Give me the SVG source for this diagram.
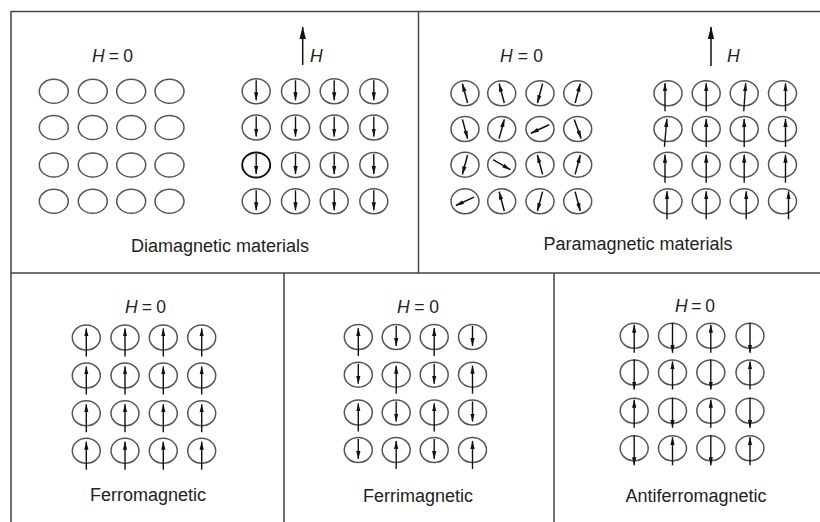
<svg xmlns="http://www.w3.org/2000/svg" xmlns:xlink="http://www.w3.org/1999/xlink" width="820" height="522" viewBox="0 0 820 522">
<style>
.t{font-family:"Liberation Sans",Arial,sans-serif;font-size:18px;fill:#222}
.h{font-family:"Liberation Sans",Arial,sans-serif;font-size:17.5px;fill:#222}
.fr{stroke:#444;stroke-width:1.5;fill:none}
</style>
<defs>
<marker id="ah" viewBox="0 0 8 4" refX="7.5" refY="2" markerWidth="8.5" markerHeight="4.6" markerUnits="userSpaceOnUse" orient="auto"><path d="M0,0L8,2L0,4z" fill="#111"/></marker>
<marker id="bh" viewBox="0 0 8 4" refX="7.5" refY="2" markerWidth="13" markerHeight="6.5" markerUnits="userSpaceOnUse" orient="auto"><path d="M0,0L8,2L0,4z" fill="#111"/></marker>
<ellipse id="c" cx="0" cy="0" rx="14" ry="12.5" fill="none" stroke="#555" stroke-width="1.5"/>
<ellipse id="c0" cx="0" cy="0" rx="14.5" ry="12" fill="none" stroke="#555" stroke-width="1.5"/>
<line id="sd" x1="0" y1="-11" x2="0" y2="9" stroke="#111" stroke-width="1.4" marker-end="url(#ah)"/>
<line id="lu" x1="0" y1="19" x2="0" y2="-9" stroke="#111" stroke-width="1.4" marker-end="url(#ah)"/>
<line id="ad" x1="0" y1="-13" x2="0" y2="17" stroke="#111" stroke-width="1.4" marker-end="url(#ah)"/>
<line id="au" x1="0" y1="17" x2="0" y2="-11" stroke="#111" stroke-width="1.4" marker-end="url(#ah)"/>
<line id="pa" x1="0" y1="10" x2="0" y2="-10" stroke="#111" stroke-width="1.5" marker-end="url(#ah)"/>
<line id="pu" x1="0" y1="18" x2="0" y2="-10" stroke="#111" stroke-width="1.4" marker-end="url(#ah)"/>
</defs>
<rect x="0" y="0" width="820" height="522" fill="#fff"/>
<g id="frame">
<path class="fr" d="M11,522V11.5H820M11,273H820M418.5,11.5V273M284,273V522M554,273V522"/>
</g>
<g id="diamagnetic">
<text class="h" x="92" y="62" textLength="41" lengthAdjust="spacing"><tspan font-style="italic">H</tspan>=0</text>
<line x1="302.7" y1="65" x2="302.7" y2="27" stroke="#111" stroke-width="1.5" marker-end="url(#bh)"/>
<text class="h" x="310" y="62" font-style="italic">H</text>
<g id="dia-left">
<use xlink:href="#c0" x="53.8" y="91.3"/><use xlink:href="#c0" x="92.8" y="91.3"/><use xlink:href="#c0" x="131.2" y="91.3"/><use xlink:href="#c0" x="169.5" y="91.3"/>
<use xlink:href="#c0" x="53.8" y="127.5"/><use xlink:href="#c0" x="92.8" y="127.5"/><use xlink:href="#c0" x="131.2" y="127.5"/><use xlink:href="#c0" x="169.5" y="127.5"/>
<use xlink:href="#c0" x="53.8" y="165"/><use xlink:href="#c0" x="92.8" y="165"/><use xlink:href="#c0" x="131.2" y="165"/><use xlink:href="#c0" x="169.5" y="165"/>
<use xlink:href="#c0" x="53.8" y="201.3"/><use xlink:href="#c0" x="92.8" y="201.3"/><use xlink:href="#c0" x="131.2" y="201.3"/><use xlink:href="#c0" x="169.5" y="201.3"/>
</g>
<g id="dia-right">
<use xlink:href="#c" x="256.2" y="91.3"/><use xlink:href="#sd" x="256.2" y="91.3"/>
<use xlink:href="#c" x="295.5" y="91.3"/><use xlink:href="#sd" x="295.5" y="91.3"/>
<use xlink:href="#c" x="334.2" y="91.3"/><use xlink:href="#sd" x="334.2" y="91.3"/>
<use xlink:href="#c" x="373.8" y="91.3"/><use xlink:href="#sd" x="373.8" y="91.3"/>
<use xlink:href="#c" x="256.2" y="127.5"/><use xlink:href="#sd" x="256.2" y="127.5"/>
<use xlink:href="#c" x="295.5" y="127.5"/><use xlink:href="#sd" x="295.5" y="127.5"/>
<use xlink:href="#c" x="334.2" y="127.5"/><use xlink:href="#sd" x="334.2" y="127.5"/>
<use xlink:href="#c" x="373.8" y="127.5"/><use xlink:href="#sd" x="373.8" y="127.5"/>
<ellipse cx="256.2" cy="165" rx="14" ry="12.5" fill="none" stroke="#111" stroke-width="1.9"/><use xlink:href="#sd" x="256.2" y="165"/>
<use xlink:href="#c" x="295.5" y="165"/><use xlink:href="#sd" x="295.5" y="165"/>
<use xlink:href="#c" x="334.2" y="165"/><use xlink:href="#sd" x="334.2" y="165"/>
<use xlink:href="#c" x="373.8" y="165"/><use xlink:href="#sd" x="373.8" y="165"/>
<use xlink:href="#c" x="256.2" y="201.3"/><use xlink:href="#sd" x="256.2" y="201.3"/>
<use xlink:href="#c" x="295.5" y="201.3"/><use xlink:href="#sd" x="295.5" y="201.3"/>
<use xlink:href="#c" x="334.2" y="201.3"/><use xlink:href="#sd" x="334.2" y="201.3"/>
<use xlink:href="#c" x="373.8" y="201.3"/><use xlink:href="#sd" x="373.8" y="201.3"/>
</g>
<text class="t" x="220" y="252" text-anchor="middle">Diamagnetic materials</text>
</g>
<g id="paramagnetic">
<text class="h" x="500" y="62" textLength="43" lengthAdjust="spacing"><tspan font-style="italic">H</tspan>=0</text>
<line x1="711" y1="66" x2="711" y2="27" stroke="#111" stroke-width="1.5" marker-end="url(#bh)"/>
<text class="h" x="727" y="62" font-style="italic">H</text>
<g id="para-left">
<use xlink:href="#c" x="465" y="93.3"/><use xlink:href="#pa" transform="translate(465,93.3) rotate(-15)"/>
<use xlink:href="#c" x="501.7" y="93.3"/><use xlink:href="#pa" transform="translate(501.7,93.3) rotate(-15)"/>
<use xlink:href="#c" x="540" y="93.3"/><use xlink:href="#pa" transform="translate(540,93.3) rotate(195)"/>
<use xlink:href="#c" x="577.7" y="93.3"/><use xlink:href="#pa" transform="translate(577.7,93.3) rotate(15)"/>
<use xlink:href="#c" x="465" y="129"/><use xlink:href="#pa" transform="translate(465,129) rotate(165)"/>
<use xlink:href="#c" x="501.7" y="129"/><use xlink:href="#pa" transform="translate(501.7,129) rotate(15)"/>
<use xlink:href="#c" x="540" y="129"/><use xlink:href="#pa" transform="translate(540,129) rotate(245)"/>
<use xlink:href="#c" x="577.7" y="129"/><use xlink:href="#pa" transform="translate(577.7,129) rotate(160)"/>
<use xlink:href="#c" x="465" y="164.7"/><use xlink:href="#pa" transform="translate(465,164.7) rotate(195)"/>
<use xlink:href="#c" x="501.7" y="164.7"/><use xlink:href="#pa" transform="translate(501.7,164.7) rotate(120)"/>
<use xlink:href="#c" x="540" y="164.7"/><use xlink:href="#pa" transform="translate(540,164.7) rotate(-15)"/>
<use xlink:href="#c" x="577.7" y="164.7"/><use xlink:href="#pa" transform="translate(577.7,164.7) rotate(15)"/>
<use xlink:href="#c" x="465" y="201.3"/><use xlink:href="#pa" transform="translate(465,201.3) rotate(245)"/>
<use xlink:href="#c" x="501.7" y="201.3"/><use xlink:href="#pa" transform="translate(501.7,201.3) rotate(-15)"/>
<use xlink:href="#c" x="540" y="201.3"/><use xlink:href="#pa" transform="translate(540,201.3) rotate(195)"/>
<use xlink:href="#c" x="577.7" y="201.3"/><use xlink:href="#pa" transform="translate(577.7,201.3) rotate(165)"/>
</g>
<g id="para-right">
<use xlink:href="#c" x="668" y="93.3"/><use xlink:href="#pu" x="665" y="93.3"/>
<use xlink:href="#c" x="706.2" y="93.3"/><use xlink:href="#pu" x="706.2" y="93.3"/>
<use xlink:href="#c" x="744.2" y="93.3"/><use xlink:href="#pu" transform="translate(745,93.3) rotate(4)"/>
<use xlink:href="#c" x="782.5" y="93.3"/><use xlink:href="#pu" x="785.5" y="93.3"/>
<use xlink:href="#c" x="668" y="129"/><use xlink:href="#pu" transform="translate(666,129) rotate(5)"/>
<use xlink:href="#c" x="706.2" y="129"/><use xlink:href="#pu" x="706.2" y="129"/>
<use xlink:href="#c" x="744.2" y="129"/><use xlink:href="#pu" x="744.2" y="129"/>
<use xlink:href="#c" x="782.5" y="129"/><use xlink:href="#pu" x="785.5" y="129"/>
<use xlink:href="#c" x="668" y="164.7"/><use xlink:href="#pu" x="665" y="164.7"/>
<use xlink:href="#c" x="706.2" y="164.7"/><use xlink:href="#pu" x="706.2" y="164.7"/>
<use xlink:href="#c" x="744.2" y="164.7"/><use xlink:href="#pu" x="744.2" y="164.7"/>
<use xlink:href="#c" x="782.5" y="164.7"/><use xlink:href="#pu" x="785.5" y="164.7"/>
<use xlink:href="#c" x="668" y="201.3"/><use xlink:href="#pu" x="667" y="201.3"/>
<use xlink:href="#c" x="706.2" y="201.3"/><use xlink:href="#pu" x="706.2" y="201.3"/>
<use xlink:href="#c" x="744.2" y="201.3"/><use xlink:href="#pu" x="746.2" y="201.3"/>
<use xlink:href="#c" x="782.5" y="201.3"/><use xlink:href="#pu" x="788.5" y="201.3"/>
</g>
<text class="t" x="638" y="250" text-anchor="middle">Paramagnetic materials</text>
</g>
<g id="ferromagnetic">
<text class="h" x="125" y="312.5" textLength="41" lengthAdjust="spacing"><tspan font-style="italic">H</tspan>=0</text>
<use xlink:href="#c" x="86.3" y="337.5"/><use xlink:href="#lu" x="86.3" y="337.5"/>
<use xlink:href="#c" x="125" y="337.5"/><use xlink:href="#lu" x="125" y="337.5"/>
<use xlink:href="#c" x="163.3" y="337.5"/><use xlink:href="#lu" x="163.3" y="337.5"/>
<use xlink:href="#c" x="201.7" y="337.5"/><use xlink:href="#lu" x="201.7" y="337.5"/>
<use xlink:href="#c" x="86.3" y="375.5"/><use xlink:href="#lu" x="86.3" y="375.5"/>
<use xlink:href="#c" x="125" y="375.5"/><use xlink:href="#lu" x="125" y="375.5"/>
<use xlink:href="#c" x="163.3" y="375.5"/><use xlink:href="#lu" x="163.3" y="375.5"/>
<use xlink:href="#c" x="201.7" y="375.5"/><use xlink:href="#lu" x="201.7" y="375.5"/>
<use xlink:href="#c" x="86.3" y="413.3"/><use xlink:href="#lu" x="86.3" y="413.3"/>
<use xlink:href="#c" x="125" y="413.3"/><use xlink:href="#lu" x="125" y="413.3"/>
<use xlink:href="#c" x="163.3" y="413.3"/><use xlink:href="#lu" x="163.3" y="413.3"/>
<use xlink:href="#c" x="201.7" y="413.3"/><use xlink:href="#lu" x="201.7" y="413.3"/>
<use xlink:href="#c" x="86.3" y="450.8"/><use xlink:href="#lu" x="86.3" y="450.8"/>
<use xlink:href="#c" x="125" y="450.8"/><use xlink:href="#lu" x="125" y="450.8"/>
<use xlink:href="#c" x="163.3" y="450.8"/><use xlink:href="#lu" x="163.3" y="450.8"/>
<use xlink:href="#c" x="201.7" y="450.8"/><use xlink:href="#lu" x="201.7" y="450.8"/>
<text class="t" x="148" y="500.5" text-anchor="middle">Ferromagnetic</text>
</g>
<g id="ferrimagnetic">
<text class="h" x="397" y="312.5" textLength="42" lengthAdjust="spacing"><tspan font-style="italic">H</tspan>=0</text>
<use xlink:href="#c" x="358.3" y="337"/><use xlink:href="#lu" x="358.3" y="337"/>
<use xlink:href="#c" x="396.2" y="337"/><use xlink:href="#sd" x="396.2" y="337"/>
<use xlink:href="#c" x="434.2" y="337"/><use xlink:href="#lu" x="434.2" y="337"/>
<use xlink:href="#c" x="472.5" y="337"/><use xlink:href="#sd" x="472.5" y="337"/>
<use xlink:href="#c" x="358.3" y="374.7"/><use xlink:href="#sd" x="358.3" y="374.7"/>
<use xlink:href="#c" x="396.2" y="374.7"/><use xlink:href="#lu" x="396.2" y="374.7"/>
<use xlink:href="#c" x="434.2" y="374.7"/><use xlink:href="#sd" x="434.2" y="374.7"/>
<use xlink:href="#c" x="472.5" y="374.7"/><use xlink:href="#lu" x="472.5" y="374.7"/>
<use xlink:href="#c" x="358.3" y="412.5"/><use xlink:href="#lu" x="358.3" y="412.5"/>
<use xlink:href="#c" x="396.2" y="412.5"/><use xlink:href="#sd" x="396.2" y="412.5"/>
<use xlink:href="#c" x="434.2" y="412.5"/><use xlink:href="#lu" x="434.2" y="412.5"/>
<use xlink:href="#c" x="472.5" y="412.5"/><use xlink:href="#sd" x="472.5" y="412.5"/>
<use xlink:href="#c" x="358.3" y="450"/><use xlink:href="#sd" x="358.3" y="450"/>
<use xlink:href="#c" x="396.2" y="450"/><use xlink:href="#lu" x="396.2" y="450"/>
<use xlink:href="#c" x="434.2" y="450"/><use xlink:href="#sd" x="434.2" y="450"/>
<use xlink:href="#c" x="472.5" y="450"/><use xlink:href="#lu" x="472.5" y="450"/>
<text class="t" x="418" y="501.5" text-anchor="middle">Ferrimagnetic</text>
</g>
<g id="antiferromagnetic">
<text class="h" x="675" y="312" textLength="40" lengthAdjust="spacing"><tspan font-style="italic">H</tspan>=0</text>
<use xlink:href="#c" x="634.2" y="335.8"/><use xlink:href="#au" x="634.2" y="335.8"/>
<use xlink:href="#c" x="672.5" y="335.8"/><use xlink:href="#ad" x="672.5" y="335.8"/>
<use xlink:href="#c" x="710.8" y="335.8"/><use xlink:href="#au" x="710.8" y="335.8"/>
<use xlink:href="#c" x="750" y="335.8"/><use xlink:href="#ad" x="750" y="335.8"/>
<use xlink:href="#c" x="634.2" y="372.5"/><use xlink:href="#ad" x="634.2" y="372.5"/>
<use xlink:href="#c" x="672.5" y="372.5"/><use xlink:href="#au" x="672.5" y="372.5"/>
<use xlink:href="#c" x="710.8" y="372.5"/><use xlink:href="#ad" x="710.8" y="372.5"/>
<use xlink:href="#c" x="750" y="372.5"/><use xlink:href="#au" x="750" y="372.5"/>
<use xlink:href="#c" x="634.2" y="410.8"/><use xlink:href="#au" x="634.2" y="410.8"/>
<use xlink:href="#c" x="672.5" y="410.8"/><use xlink:href="#ad" x="672.5" y="410.8"/>
<use xlink:href="#c" x="710.8" y="410.8"/><use xlink:href="#au" x="710.8" y="410.8"/>
<use xlink:href="#c" x="750" y="410.8"/><use xlink:href="#ad" x="750" y="410.8"/>
<use xlink:href="#c" x="634.2" y="448.3"/><use xlink:href="#ad" x="634.2" y="448.3"/>
<use xlink:href="#c" x="672.5" y="448.3"/><use xlink:href="#au" x="672.5" y="448.3"/>
<use xlink:href="#c" x="710.8" y="448.3"/><use xlink:href="#ad" x="710.8" y="448.3"/>
<use xlink:href="#c" x="750" y="448.3"/><use xlink:href="#au" x="750" y="448.3"/>
<text class="t" x="696" y="501.5" text-anchor="middle">Antiferromagnetic</text>
</g>
</svg>
